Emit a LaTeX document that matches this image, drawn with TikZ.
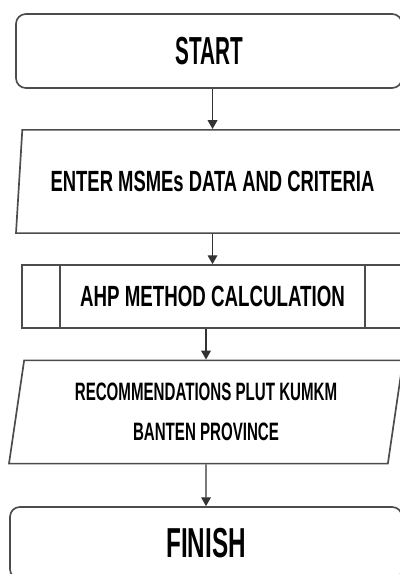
\documentclass[tikz,border=0pt]{standalone}
\usepackage{fontspec}
% condensed bold sans: size, stretch, line skip
\newcommand{\flowfont}[3]{\fontspec{Liberation Sans}[FakeStretch=#2]\bfseries\fontsize{#1}{#3}\selectfont}
\usetikzlibrary{arrows.meta, positioning, calc, shapes.geometric}

\begin{document}
\begin{tikzpicture}[
  terminal/.style = {draw=black!70, line width=1.2pt, rounded corners=7pt, minimum width=9.65cm, minimum height=1.85cm, inner sep=1pt},
  data/.style = {trapezium, trapezium stretches body, draw=black!70, line width=1.2pt, minimum height=2.58cm, inner sep=1pt, align=center},
  proc/.style = {draw=black!70, line width=1.2pt, minimum width=9.525cm, minimum height=1.575cm, inner sep=1pt},
  arrow/.style = {black!80, line width=0.9pt, -{Triangle[width=2.4mm, length=2.2mm]}}
]
  \clip (0,0) rectangle (10,-14.35);

  % Start and finish
  \node[terminal, font=\flowfont{27.8}{0.53}{33}] (start) at (5.225,-1.275) {START};
  \node[terminal, minimum width=9.8cm, minimum height=1.8cm, font=\flowfont{29.8}{0.58}{35}] (finish) at (5.15,-13.575) {FINISH};

  % Input data
  \node[data, trapezium left angle=75, trapezium right angle=105, minimum width=9.825cm,
        font=\flowfont{20.8}{0.63}{25}] (input) at (5.3125,-4.5375) {ENTER MSMEs DATA AND CRITERIA};

  % AHP process
  \node[proc, font=\flowfont{20.8}{0.64}{25}] (ahp) at (5.3125,-7.4125) {AHP METHOD CALCULATION};
  \draw[black!70, line width=1.2pt] ($(ahp.north west)+(0.975,0)$) -- ($(ahp.south west)+(0.975,0)$);
  \draw[black!70, line width=1.2pt] ($(ahp.north east)-(0.975,0)$) -- ($(ahp.south east)-(0.975,0)$);

  % Output recommendation
  \node[data, trapezium left angle=76, trapezium right angle=104, minimum width=9.85cm,
        font=\flowfont{17.9}{0.60}{28.5}] (output) at (5.15,-10.3) {RECOMMENDATIONS PLUT KUMKM\\BANTEN PROVINCE};

  % Flow
  \draw[arrow] (start.south -| input.north) -- (input.north);
  \draw[arrow] (input.south) -- (input.south |- ahp.north);
  \draw[arrow] (ahp.south -| output.north) -- (output.north);
  \draw[arrow] (output.south) -- (finish.north);

\end{tikzpicture}
\end{document}
